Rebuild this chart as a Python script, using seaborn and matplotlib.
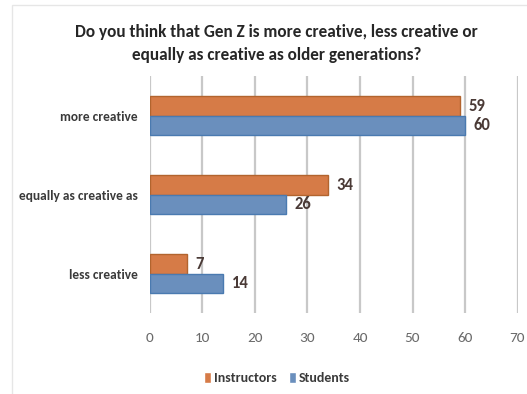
import matplotlib
matplotlib.use("Agg")
import matplotlib.pyplot as plt
import seaborn as sns
import pandas as pd
from matplotlib.patches import Rectangle

categories = ["more creative", "equally as creative as", "less creative"]
instructors = [59, 34, 7]
students = [60, 26, 14]
series = ["Instructors", "Students"]
xticks = [0, 10, 20, 30, 40, 50, 60, 70]
title = "Do you think that Gen Z is more creative, less creative or\nequally as creative as older generations?"

df = pd.DataFrame({
    "category": categories * 2,
    "value": instructors + students,
    "group": [series[0]] * 3 + [series[1]] * 3,
})

sns.set_theme(style="white")
plt.rcParams["font.family"] = ["Carlito", "DejaVu Sans"]

fig = plt.figure(figsize=(5.27, 3.94), dpi=100)
ax = fig.add_axes([0.2846, 0.2056, 0.6974, 0.6014])

palette = {"Instructors": "#D67B47", "Students": "#6A8FBD"}
sns.barplot(data=df, y="category", x="value", hue="group", order=categories,
            hue_order=series, palette=palette, orient="h", width=0.5,
            saturation=1, ax=ax, legend=True, zorder=3)

edges = {"Instructors": "#B2642E", "Students": "#4A7AB0"}
for cont, name in zip(ax.containers, series):
    for bar in cont:
        bar.set_edgecolor(edges[name])
        bar.set_linewidth(1.0)
    ax.bar_label(cont, padding=6, fontsize=12, fontweight="bold", color="#4a3a36")

ax.set_xlim(0, 70)
ax.set_xticks(xticks)
ax.set_xticklabels([str(t) for t in xticks], fontsize=11, color="#6a6a6a")
ax.tick_params(axis="x", length=0, pad=14)
ax.tick_params(axis="y", length=0, pad=9)
for lab in ax.get_yticklabels():
    lab.set_fontsize(9.6)
    lab.set_fontweight("bold")
    lab.set_color("#3a3a3a")
ax.set_xlabel("")
ax.set_ylabel("")
ax.xaxis.grid(True, color="#c8c8c8", linewidth=1.6, zorder=0)
ax.set_axisbelow(True)
for s in ax.spines.values():
    s.set_visible(False)

leg = ax.legend(loc="center", bbox_to_anchor=((277 - 150) / 367.5, -(378 - 313) / 237),
                ncol=2, frameon=False, fontsize=10, handlelength=0.5, handleheight=0.9,
                handletextpad=0.2, columnspacing=0.9)
for t in leg.get_texts():
    t.set_fontweight("bold")
    t.set_color("#3a3a3a")

fig.text(276.5 / 527, 1 - 43.5 / 394, title, ha="center", va="center",
         fontsize=12.3, fontweight="bold", color="#262626", linespacing=1.55)

fig.patches.append(Rectangle((12 / 527, -0.1), 1.2, 1 - 5 / 394 + 0.1, transform=fig.transFigure,
                             fill=False, edgecolor="#e6e6e6", linewidth=1.0))

fig.savefig("out.png", dpi=100)
